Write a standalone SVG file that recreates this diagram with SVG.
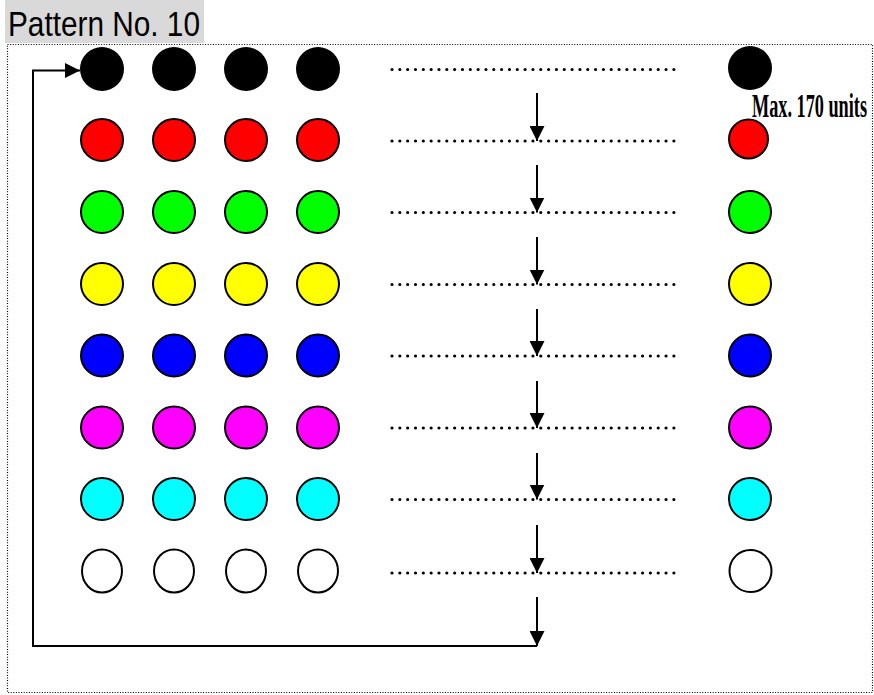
<svg xmlns="http://www.w3.org/2000/svg" width="874" height="695" viewBox="0 0 874 695">
<defs>
<style>
.c{stroke:#000;stroke-width:2}
.dot{stroke:#000;stroke-width:3.2;stroke-linecap:round;stroke-dasharray:0 7.83;fill:none}
.conn{stroke:#000;stroke-width:2;fill:none}
</style>
<marker id="ah" viewBox="0 0 15 15" refX="15" refY="7.5" markerWidth="15" markerHeight="15" markerUnits="userSpaceOnUse" orient="auto">
<path d="M0,0 L15,7.5 L0,15 Z" fill="#000"/>
</marker>
</defs>
<rect x="0" y="0" width="874" height="695" fill="#fff"/>
<rect x="5" y="0" width="199" height="43" fill="#d9d9d9"/>
<text x="8" y="36" font-family="Liberation Sans, Arial, sans-serif" font-size="35" textLength="192" lengthAdjust="spacingAndGlyphs" fill="#000">Pattern No. 10</text>
<rect x="7.5" y="44.5" width="865" height="648" fill="none" stroke="#000" stroke-width="1.2" stroke-dasharray="1 1.6"/>

<g id="row1">
<circle cx="102" cy="69" r="22" fill="#000"/>
<circle cx="174" cy="69" r="22" fill="#000"/>
<circle cx="246" cy="69" r="22" fill="#000"/>
<circle cx="318" cy="69" r="22" fill="#000"/>
<line class="dot" x1="392" y1="69.5" x2="674" y2="69.5"/>
<circle cx="750" cy="68" r="22" fill="#000"/>
</g>
<g id="row2">
<circle class="c" cx="102" cy="140" r="21" fill="#ff0000"/>
<circle class="c" cx="174" cy="140" r="21" fill="#ff0000"/>
<circle class="c" cx="246" cy="140" r="21" fill="#ff0000"/>
<circle class="c" cx="318" cy="140" r="21" fill="#ff0000"/>
<line class="dot" x1="392" y1="141" x2="674" y2="141"/>
<circle class="c" cx="748.5" cy="139" r="19.5" fill="#ff0000"/>
</g>
<g id="row3">
<circle class="c" cx="102" cy="212" r="21" fill="#00ff00"/>
<circle class="c" cx="174" cy="212" r="21" fill="#00ff00"/>
<circle class="c" cx="246" cy="212" r="21" fill="#00ff00"/>
<circle class="c" cx="318" cy="212" r="21" fill="#00ff00"/>
<line class="dot" x1="392" y1="212.5" x2="674" y2="212.5"/>
<circle class="c" cx="750" cy="212" r="21" fill="#00ff00"/>
</g>
<g id="row4">
<circle class="c" cx="102" cy="284" r="21" fill="#ffff00"/>
<circle class="c" cx="174" cy="284" r="21" fill="#ffff00"/>
<circle class="c" cx="246" cy="284" r="21" fill="#ffff00"/>
<circle class="c" cx="318" cy="284" r="21" fill="#ffff00"/>
<line class="dot" x1="392" y1="284.5" x2="674" y2="284.5"/>
<circle class="c" cx="750" cy="284" r="21" fill="#ffff00"/>
</g>
<g id="row5">
<circle class="c" cx="102" cy="355.5" r="21" fill="#0000ff"/>
<circle class="c" cx="174" cy="355.5" r="21" fill="#0000ff"/>
<circle class="c" cx="246" cy="355.5" r="21" fill="#0000ff"/>
<circle class="c" cx="318" cy="355.5" r="21" fill="#0000ff"/>
<line class="dot" x1="392" y1="356" x2="674" y2="356"/>
<circle class="c" cx="750" cy="355.5" r="21" fill="#0000ff"/>
</g>
<g id="row6">
<circle class="c" cx="102" cy="427.5" r="21" fill="#ff00ff"/>
<circle class="c" cx="174" cy="427.5" r="21" fill="#ff00ff"/>
<circle class="c" cx="246" cy="427.5" r="21" fill="#ff00ff"/>
<circle class="c" cx="318" cy="427.5" r="21" fill="#ff00ff"/>
<line class="dot" x1="392" y1="428" x2="674" y2="428"/>
<circle class="c" cx="750" cy="427.5" r="21" fill="#ff00ff"/>
</g>
<g id="row7">
<circle class="c" cx="102" cy="499" r="21" fill="#00ffff"/>
<circle class="c" cx="174" cy="499" r="21" fill="#00ffff"/>
<circle class="c" cx="246" cy="499" r="21" fill="#00ffff"/>
<circle class="c" cx="318" cy="499" r="21" fill="#00ffff"/>
<line class="dot" x1="392" y1="499.5" x2="674" y2="499.5"/>
<circle class="c" cx="750" cy="499" r="21" fill="#00ffff"/>
</g>
<g id="row8">
<ellipse class="c" cx="102" cy="571" rx="20" ry="21.5" fill="#fff"/>
<ellipse class="c" cx="174" cy="571" rx="20" ry="21.5" fill="#fff"/>
<ellipse class="c" cx="246" cy="571" rx="20" ry="21.5" fill="#fff"/>
<ellipse class="c" cx="318" cy="571" rx="20" ry="21.5" fill="#fff"/>
<line class="dot" x1="392" y1="573" x2="674" y2="573"/>
<circle class="c" cx="750.5" cy="571" r="21" fill="#fff"/>
</g>
<g id="label">
<text x="752" y="117" font-family="Liberation Serif, 'Times New Roman', serif" font-weight="bold" font-size="34" textLength="115" lengthAdjust="spacingAndGlyphs" fill="#000">Max. 170 units</text>
</g>
<g id="connectors">
<line class="conn" x1="537" y1="93" x2="537" y2="141" marker-end="url(#ah)"/>
<line class="conn" x1="537" y1="165" x2="537" y2="212.5" marker-end="url(#ah)"/>
<line class="conn" x1="537" y1="237" x2="537" y2="284.5" marker-end="url(#ah)"/>
<line class="conn" x1="537" y1="309" x2="537" y2="356" marker-end="url(#ah)"/>
<line class="conn" x1="537" y1="381" x2="537" y2="428" marker-end="url(#ah)"/>
<line class="conn" x1="537" y1="453" x2="537" y2="499.5" marker-end="url(#ah)"/>
<line class="conn" x1="537" y1="525" x2="537" y2="573" marker-end="url(#ah)"/>
<line class="conn" x1="537" y1="597" x2="537" y2="646" marker-end="url(#ah)"/>
<polyline class="conn" points="537,646 33,646 33,70.5 80,70.5" marker-end="url(#ah)"/>
</g>
</svg>
